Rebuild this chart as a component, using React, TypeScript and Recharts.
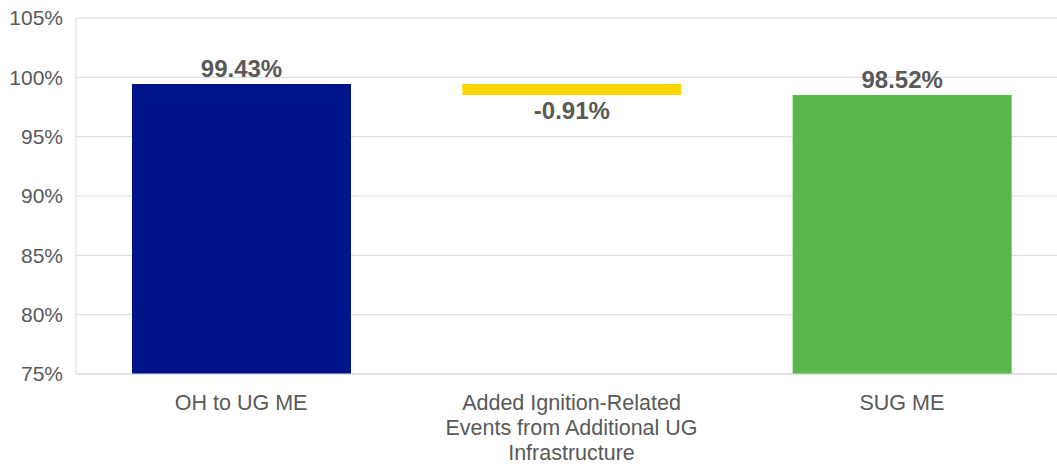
import React from 'react';
import { BarChart, Bar, XAxis, YAxis, CartesianGrid, Cell, LabelList } from 'recharts';

const categories = ['OH to UG ME', 'Added Ignition-Related\nEvents from Additional UG\nInfrastructure', 'SUG ME'];
const lows = [75, 98.52, 75];
const highs = [99.43, 99.43, 98.52];
const valueLabels = ['99.43%', '-0.91%', '98.52%'];
const barColors = ['#001489', '#FFD700', '#58B84A'];
const yTicks = [75, 80, 85, 90, 95, 100, 105];

const data = categories.map((c, i) => ({ name: c, range: [lows[i], highs[i]], label: valueLabels[i] }));

const FONT = '"Liberation Sans", Arial, sans-serif';
const TEXT = '#595959';

const XTick = (props: any) => {
  const { x, payload } = props;
  const lines = String(payload.value).split('\n');
  return (
    <g>
      {lines.map((l, i) => (
        <text key={i} x={x} y={374 + 36 + i * 25} textAnchor="middle" fill={TEXT} fontSize={21.5} fontFamily={FONT}>
          {l}
        </text>
      ))}
    </g>
  );
};

const ValueLabel = (props: any) => {
  const { x, y, width, height, index } = props;
  const cx = x + width / 2;
  const below = index === 1;
  const ty = below ? y + height + 24 : y - 7;
  return (
    <text x={cx} y={ty} textAnchor="middle" fill={TEXT} fontSize={24} fontWeight="bold" fontFamily={FONT}>
      {valueLabels[index]}
    </text>
  );
};

export default function App() {
  return (
    <div style={{ position: 'absolute', left: 0, top: 0, width: 1057, height: 464, overflow: 'hidden', background: '#fff' }}>
      <BarChart width={1067} height={464} data={data} margin={{ top: 18, right: 0, bottom: 0, left: 0 }} barCategoryGap={0}>
        <CartesianGrid vertical={false} stroke="#D9D9D9" />
        <XAxis dataKey="name" axisLine={{ stroke: '#D9D9D9' }} tickLine={false} tick={<XTick />} interval={0} height={90} />
        <YAxis
          width={76}
          domain={[75, 105]}
          ticks={yTicks}
          allowDataOverflow
          axisLine={{ stroke: '#D9D9D9' }}
          tickLine={false}
          tickMargin={7}
          tickFormatter={(v: number) => `${v}%`}
          tick={{ fill: TEXT, fontSize: 21, fontFamily: FONT }}
        />
        <Bar dataKey="range" barSize={219} isAnimationActive={false}>
          {data.map((d, i) => (
            <Cell key={i} fill={barColors[i]} />
          ))}
          <LabelList dataKey="label" content={<ValueLabel />} />
        </Bar>
      </BarChart>
    </div>
  );
}
